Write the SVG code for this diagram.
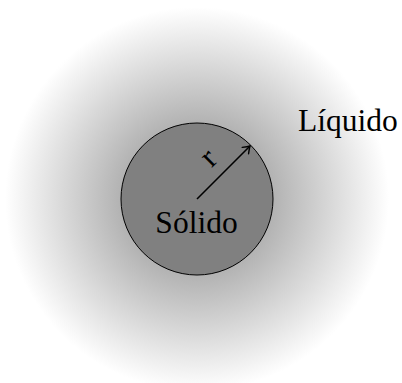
<svg xmlns="http://www.w3.org/2000/svg" width="402" height="383" viewBox="0 0 402 383">
<defs>
<radialGradient id="liq" gradientUnits="userSpaceOnUse" cx="197" cy="199" r="192">
<stop offset="0" stop-color="#808080"/>
<stop offset="1" stop-color="#ffffff"/>
</radialGradient>
<marker id="arr" viewBox="-8 -6 10 12" markerWidth="10" markerHeight="12" refX="0" refY="0" orient="auto" markerUnits="userSpaceOnUse">
<path d="M -6.5 -4.5 Q -2 -1 0 0 Q -2 1 -6.5 4.5" fill="none" stroke="#000" stroke-width="1.4" stroke-linecap="round"/>
</marker>
</defs>
<style>
text { font-family: "Liberation Serif", "Times New Roman", serif; fill: #000; }
.lbl { font-size: 31.5px; }
</style>
<rect width="402" height="383" fill="#ffffff"/>
<g id="liquido">
<circle cx="197" cy="199" r="192" fill="url(#liq)"/>
<text class="lbl" x="298" y="130.5">Líquido</text>
</g>
<g id="solido">
<circle cx="197" cy="199" r="76" fill="#808080" stroke="#000" stroke-width="1"/>
<text class="lbl" x="196.5" y="232.7" text-anchor="middle">Sólido</text>
</g>
<g id="connectors">
<line x1="197" y1="199" x2="250" y2="146" stroke="#000" stroke-width="1.6" marker-end="url(#arr)"/>
<text class="lbl" x="0" y="0" text-anchor="middle" transform="translate(209.5 159) rotate(-45) translate(0 8)">r</text>
</g>
</svg>
